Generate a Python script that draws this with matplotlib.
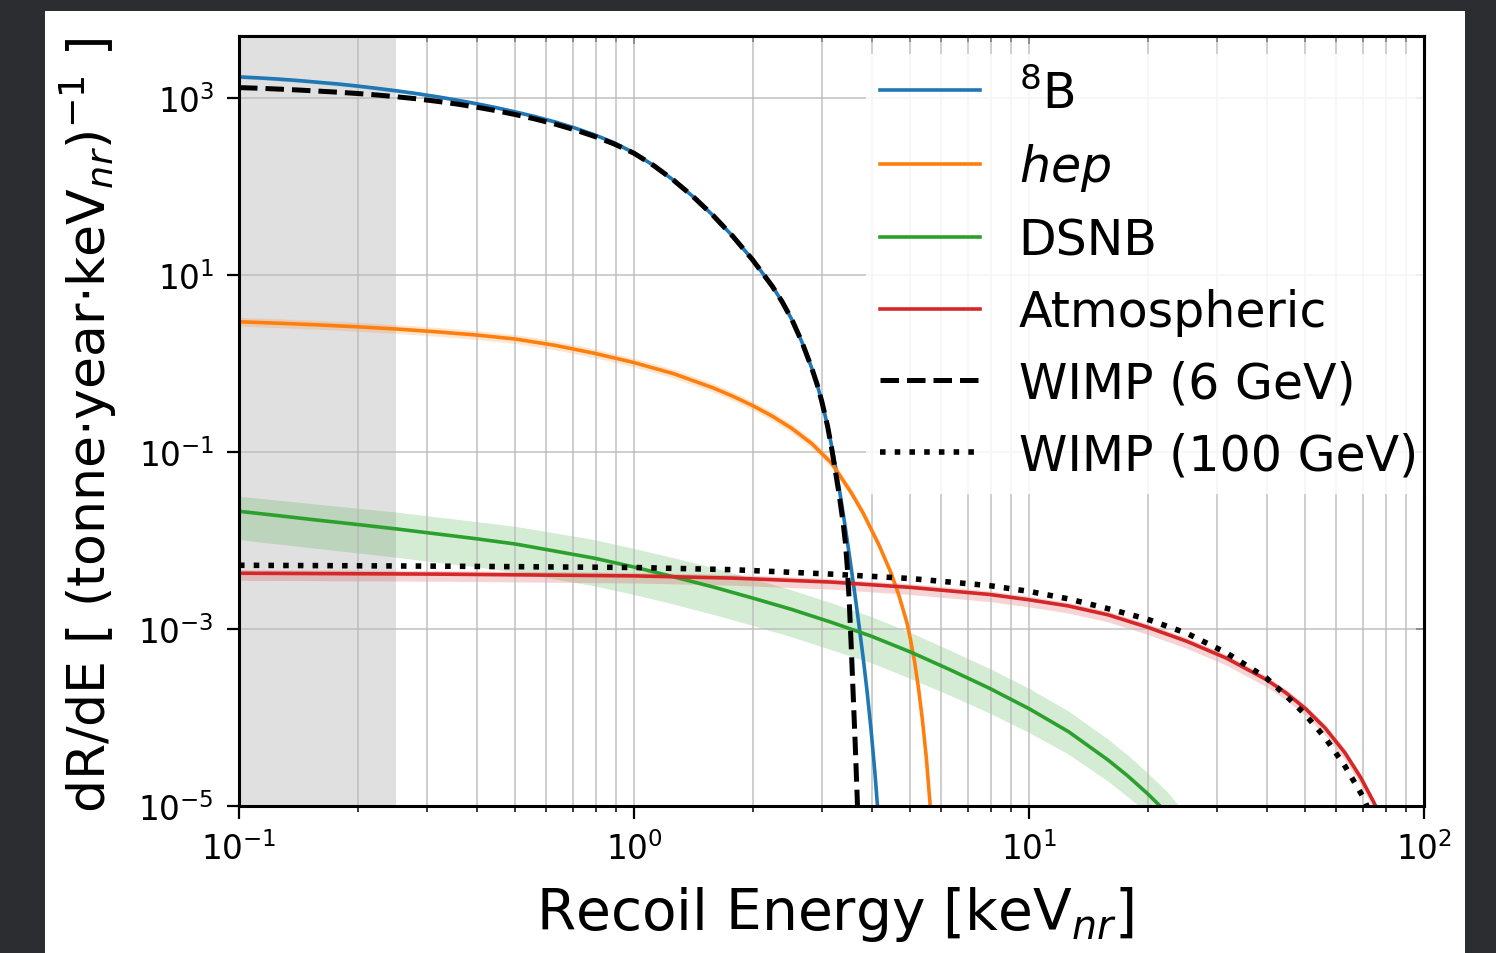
import numpy as np
import matplotlib
matplotlib.use("Agg")
import matplotlib.pyplot as plt
from matplotlib.patches import Rectangle
from matplotlib.ticker import NullLocator, LogLocator

# ---------------- data (rates given as log10 of dR/dE [1/(t yr keV)]) ----------------
b8_E = [0.100, 0.112, 0.126, 0.141, 0.158, 0.178, 0.200, 0.224, 0.251, 0.282, 0.316, 0.355,
        0.398, 0.447, 0.501, 0.562, 0.631, 0.708, 0.794, 0.891, 1.000, 1.122, 1.259, 1.413,
        1.585, 1.778, 1.995, 2.239, 2.371, 2.512, 2.661, 2.818, 2.904, 2.985, 3.090, 3.162,
        3.236, 3.311, 3.388, 3.467, 3.548, 3.631, 3.715, 3.802, 3.890, 3.981, 4.074, 4.169]
b8_log = [3.238, 3.227, 3.213, 3.197, 3.178, 3.158, 3.134, 3.108, 3.080, 3.049, 3.015, 2.977,
          2.936, 2.891, 2.842, 2.789, 2.729, 2.661, 2.584, 2.494, 2.379, 2.236, 2.071, 1.883,
          1.673, 1.438, 1.173, 0.873, 0.698, 0.493, 0.243, -0.052, -0.228, -0.420, -0.705, -0.925,
          -1.165, -1.425, -1.705, -2.005, -2.315, -2.635, -2.970, -3.320, -3.700, -4.130, -4.630, -5.210]

w6_E = [0.100, 0.112, 0.126, 0.141, 0.158, 0.178, 0.200, 0.224, 0.251, 0.282, 0.316, 0.355,
        0.398, 0.447, 0.501, 0.562, 0.631, 0.708, 0.794, 0.891, 1.000, 1.122, 1.259, 1.413,
        1.585, 1.778, 1.995, 2.239, 2.371, 2.512, 2.661, 2.818, 2.904, 2.985, 3.090, 3.162,
        3.236, 3.311, 3.388, 3.428, 3.467, 3.508, 3.548, 3.589, 3.631, 3.673, 3.698]
w6_log = [3.117, 3.110, 3.100, 3.090, 3.078, 3.065, 3.050, 3.033, 3.013, 2.990, 2.963, 2.932,
          2.897, 2.857, 2.812, 2.762, 2.705, 2.640, 2.566, 2.480, 2.375, 2.236, 2.071, 1.883,
          1.673, 1.438, 1.173, 0.873, 0.698, 0.493, 0.243, -0.052, -0.228, -0.420, -0.705, -0.950,
          -1.220, -1.500, -1.820, -2.020, -2.300, -2.700, -3.200, -3.750, -4.300, -4.900, -5.300]

hep_E = [0.100, 0.126, 0.158, 0.200, 0.251, 0.316, 0.398, 0.501, 0.631, 0.794, 1.000, 1.259,
         1.585, 1.778, 1.995, 2.239, 2.512, 2.818, 3.162, 3.548, 3.802, 4.169, 4.467, 4.677,
         4.909, 5.012, 5.129, 5.248, 5.370, 5.495, 5.623, 5.689]
hep_log = [0.471, 0.455, 0.436, 0.414, 0.389, 0.358, 0.322, 0.276, 0.205, 0.115, 0.010, -0.115,
           -0.275, -0.370, -0.475, -0.595, -0.735, -0.905, -1.125, -1.460, -1.690, -2.050, -2.360, -2.610,
           -2.930, -3.120, -3.360, -3.660, -4.020, -4.450, -5.000, -5.300]

dsnb_E = [0.100, 0.126, 0.158, 0.200, 0.251, 0.316, 0.398, 0.501, 0.631, 0.794, 1.000, 1.259,
          1.585, 1.995, 2.512, 3.162, 3.981, 5.012, 6.310, 7.943, 10.00, 12.59, 15.85, 17.78,
          19.95, 22.39, 25.12]
dsnb_log = [-1.670, -1.720, -1.770, -1.820, -1.870, -1.925, -1.980, -2.040, -2.120, -2.200, -2.300, -2.410,
            -2.525, -2.650, -2.780, -2.925, -3.080, -3.260, -3.460, -3.670, -3.900, -4.160, -4.480, -4.660,
            -4.860, -5.080, -5.350]
dsnb_hi = [-1.500, -1.545, -1.590, -1.636, -1.680, -1.733, -1.786, -1.840, -1.915, -1.990, -2.090, -2.195,
           -2.305, -2.430, -2.560, -2.705, -2.858, -3.040, -3.240, -3.445, -3.670, -3.928, -4.245, -4.425,
           -4.625, -4.840, -5.110]
dsnb_lo = [-1.990, -2.040, -2.090, -2.140, -2.190, -2.245, -2.298, -2.357, -2.435, -2.513, -2.610, -2.718,
           -2.835, -2.960, -3.090, -3.235, -3.380, -3.560, -3.750, -3.950, -4.170, -4.415, -4.720, -4.895,
           -5.085, -5.300, -5.570]

atm_E = [0.100, 0.316, 1.000, 1.778, 3.162, 5.012, 7.943, 10.00, 12.59, 15.85, 19.95, 25.12,
         31.62, 39.81, 44.67, 50.12, 56.23, 63.10, 69.18, 74.47, 79.43]
atm_log = [-2.370, -2.380, -2.400, -2.425, -2.470, -2.530, -2.610, -2.670, -2.740, -2.840, -2.980, -3.140,
           -3.330, -3.570, -3.720, -3.900, -4.120, -4.400, -4.680, -4.950, -5.220]
atm_hi = [-2.330, -2.340, -2.360, -2.385, -2.430, -2.490, -2.570, -2.630, -2.700, -2.800, -2.940, -3.100,
          -3.290, -3.530, -3.680, -3.860, -4.080, -4.360, -4.640, -4.910, -5.180]
atm_lo = [-2.450, -2.460, -2.480, -2.505, -2.550, -2.610, -2.690, -2.750, -2.820, -2.920, -3.060, -3.220,
          -3.410, -3.650, -3.800, -3.980, -4.200, -4.480, -4.760, -5.030, -5.300]

w100_E = [0.100, 0.316, 1.000, 1.778, 3.162, 5.012, 7.943, 10.00, 12.59, 15.85, 19.95, 25.12,
          31.62, 39.81, 44.67, 50.12, 56.23, 63.10, 70.15, 74.13]
w100_log = [-2.280, -2.290, -2.305, -2.330, -2.380, -2.430, -2.510, -2.575, -2.660, -2.770, -2.890, -3.050,
            -3.270, -3.550, -3.750, -3.970, -4.230, -4.550, -4.900, -5.150]

b8_band = 0.02
hep_band = 0.05

labels = [r"$^8$B", r"$hep$", "DSNB", "Atmospheric", "WIMP (6 GeV)", "WIMP (100 GeV)"]
threshold = 0.25
xlim = (0.1, 100)
ylim = (1e-5, 10 ** 3.70)
yticks = [1e-5, 1e-3, 1e-1, 1e1, 1e3]

# ---------------- figure ----------------
W, H = 1496, 954
fig = plt.figure(figsize=(W / 100, H / 100), dpi=100, facecolor="#2b2d31")
fig.add_artist(Rectangle((45 / W, 0), 1420 / W, 942 / H, transform=fig.transFigure,
                         facecolor="white", edgecolor="none", zorder=-10))
ax = fig.add_axes([239 / W, 1 - 807 / H, 1185 / W, 770 / H])
ax.set_xscale("log")
ax.set_yscale("log")

ax.axvspan(xlim[0], threshold, facecolor="#e0e0e0", edgecolor="none", zorder=1)


def p(a):
    return 10 ** np.asarray(a)


C = ["#1f77b4", "#ff7f0e", "#2ca02c", "#d62728"]
lw = 2.6

b8 = np.asarray(b8_log)
hep = np.asarray(hep_log)
ax.fill_between(b8_E, p(b8 - b8_band), p(b8 + b8_band), color=C[0], alpha=0.2, lw=0)
ax.fill_between(hep_E, p(hep - hep_band), p(hep + hep_band), color=C[1], alpha=0.2, lw=0)
ax.fill_between(dsnb_E, p(dsnb_lo), p(dsnb_hi), color=C[2], alpha=0.2, lw=0)
ax.fill_between(atm_E, p(atm_lo), p(atm_hi), color=C[3], alpha=0.2, lw=0)

ax.plot(b8_E, p(b8_log), color=C[0], lw=lw, label=labels[0])
ax.plot(hep_E, p(hep_log), color=C[1], lw=lw, label=labels[1])
ax.plot(dsnb_E, p(dsnb_log), color=C[2], lw=lw, label=labels[2])
ax.plot(atm_E, p(atm_log), color=C[3], lw=lw, label=labels[3])
ax.plot(w6_E, p(w6_log), color="black", lw=3.6, ls="--", label=labels[4])
ax.plot(w100_E, p(w100_log), color="black", lw=4.0, ls=":", label=labels[5])

ax.set_xlim(*xlim)
ax.set_ylim(*ylim)
ax.set_yticks(yticks)
ax.yaxis.set_minor_locator(NullLocator())
ax.xaxis.set_minor_locator(LogLocator(base=10, subs=np.arange(2, 10)))

ax.grid(True, which="major", axis="both", color="#b8b8b8", lw=1.2, alpha=0.8)
ax.grid(True, which="minor", axis="x", color="#b8b8b8", lw=1.2, alpha=0.8)

for s in ax.spines.values():
    s.set_linewidth(2.2)
ax.tick_params(which="major", length=9, width=1.6, labelsize=23.5, pad=9, direction="out")
ax.tick_params(which="minor", length=4.5, width=1.1, direction="out")

top = ax.secondary_xaxis("top")
top.tick_params(which="both", direction="in", labeltop=False, width=1.1)
top.tick_params(which="major", length=6)
top.tick_params(which="minor", length=4.5)
top.xaxis.set_minor_locator(LogLocator(base=10, subs=np.arange(2, 10)))
top.spines["top"].set_linewidth(2.2)
right = ax.secondary_yaxis("right")
right.set_yticks(yticks)
right.yaxis.set_minor_locator(NullLocator())
right.tick_params(which="both", direction="in", labelright=False, length=6, width=1.1)
right.spines["right"].set_linewidth(2.2)

ax.set_xlabel(r"Recoil Energy [keV$_{nr}$]", fontsize=40.8, va="center")
ax.xaxis.set_label_coords(0.503, -0.140)
ax.set_ylabel(r"dR/dE [ (tonne$\cdot$year$\cdot$keV$_{nr}$)$^{-1}$ ]", fontsize=37.5, va="center")
ax.yaxis.set_label_coords(-0.127, 0.496)

leg = ax.legend(loc="upper right", bbox_to_anchor=(1.0072, 1 - 18 / 770), borderaxespad=0,
                fontsize=35.3, handlelength=2.04, handletextpad=0.78,
                labelspacing=0.48, borderpad=0.3,
                framealpha=0.85, edgecolor="none", fancybox=False)
leg.set_zorder(2.4)

fig.savefig("out.png", dpi=100, facecolor=fig.get_facecolor())
